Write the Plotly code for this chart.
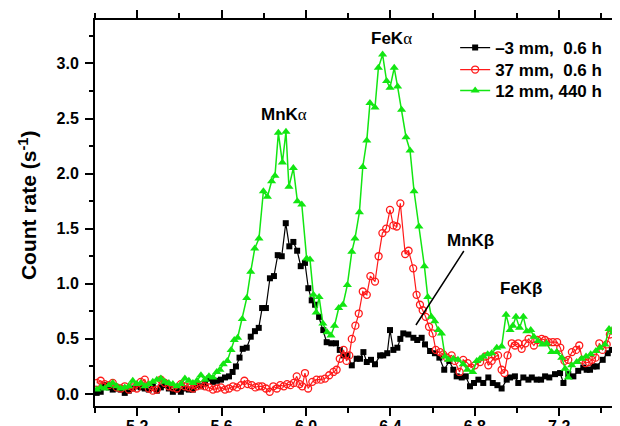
import plotly.graph_objects as go

# ---- data ----
black_x = [5.008, 5.027, 5.046, 5.065, 5.084, 5.103, 5.122, 5.141, 5.160, 5.179,
           5.198, 5.217, 5.236, 5.255, 5.274, 5.293, 5.312, 5.331, 5.350, 5.369,
           5.388, 5.407, 5.426, 5.445, 5.464, 5.483, 5.502, 5.521, 5.540, 5.559,
           5.578, 5.597, 5.616, 5.635, 5.652, 5.668, 5.685, 5.700, 5.719, 5.738,
           5.758, 5.776, 5.792, 5.810, 5.829, 5.848, 5.866, 5.885, 5.904, 5.921,
           5.940, 5.958, 5.975, 5.995, 6.011, 6.027, 6.043, 6.062, 6.082, 6.098,
           6.120, 6.142, 6.160, 6.177, 6.196, 6.217, 6.240, 6.256, 6.272, 6.288,
           6.308, 6.327, 6.351, 6.366, 6.385, 6.398, 6.414, 6.433, 6.447, 6.461,
           6.485, 6.509, 6.527, 6.548, 6.564, 6.588, 6.611, 6.632, 6.655, 6.679,
           6.698, 6.714, 6.738, 6.757, 6.777, 6.796, 6.817, 6.840, 6.864, 6.885,
           6.907, 6.927, 6.951, 6.967, 6.990, 7.006, 7.030, 7.054, 7.070, 7.093,
           7.114, 7.133, 7.153, 7.180, 7.204, 7.220, 7.243, 7.267, 7.290, 7.314,
           7.330, 7.346, 7.362, 7.378, 7.406, 7.430, 7.449, 7.469, 7.482]
black_y = [0.01, 0.02, 0.08, 0.06, 0.04, 0.05, 0.04, 0.01, 0.03, 0.05,
           0.07, 0.06, 0.05, 0.04, 0.07, 0.03, 0.06, 0.08, 0.05, 0.02,
           0.04, 0.02, 0.05, 0.04, 0.04, 0.08, 0.07, 0.10, 0.14, 0.11,
           0.12, 0.13, 0.15, 0.16, 0.20, 0.25, 0.33, 0.41, 0.42, 0.52,
           0.57, 0.60, 0.78, 0.78, 1.05, 1.07, 1.26, 1.25, 1.55, 1.34,
           1.38, 1.30, 1.16, 1.19, 0.96, 0.85, 0.81, 0.70, 0.58, 0.47,
           0.46, 0.46, 0.40, 0.35, 0.35, 0.26, 0.32, 0.32, 0.38, 0.29,
           0.31, 0.27, 0.35, 0.35, 0.37, 0.58, 0.40, 0.42, 0.50, 0.55,
           0.54, 0.51, 0.49, 0.51, 0.45, 0.39, 0.37, 0.33, 0.22, 0.30,
           0.22, 0.16, 0.15, 0.16, 0.07, 0.10, 0.13, 0.10, 0.15, 0.10,
           0.08, 0.05, 0.13, 0.15, 0.16, 0.10, 0.15, 0.13, 0.15, 0.13,
           0.13, 0.16, 0.15, 0.18, 0.19, 0.10, 0.18, 0.16, 0.21, 0.24,
           0.22, 0.22, 0.25, 0.25, 0.31, 0.37, 0.40, 0.45, 0.51]

red_x = [5.008, 5.027, 5.046, 5.065, 5.084, 5.103, 5.122, 5.141, 5.160, 5.179,
         5.198, 5.217, 5.236, 5.255, 5.274, 5.293, 5.312, 5.331, 5.350, 5.369,
         5.388, 5.407, 5.426, 5.445, 5.464, 5.483, 5.502, 5.521, 5.540, 5.559,
         5.578, 5.597, 5.616, 5.635, 5.654, 5.673, 5.692, 5.708, 5.724, 5.743,
         5.760, 5.776, 5.792, 5.810, 5.828, 5.845, 5.862, 5.878, 5.895, 5.910,
         5.926, 5.942, 5.956, 5.970, 5.982, 5.995, 6.010, 6.030, 6.050, 6.070,
         6.090, 6.110, 6.130, 6.145, 6.160, 6.178, 6.192, 6.205, 6.217, 6.234,
         6.250, 6.269, 6.288, 6.305, 6.327, 6.344, 6.362, 6.380, 6.398, 6.414,
         6.430, 6.447, 6.470, 6.486, 6.508, 6.524, 6.540, 6.553, 6.567, 6.583,
         6.600, 6.615, 6.635, 6.650, 6.668, 6.690, 6.705, 6.728, 6.745, 6.766,
         6.782, 6.800, 6.825, 6.850, 6.864, 6.880, 6.896, 6.910, 6.927, 6.940,
         6.955, 6.975, 6.990, 7.006, 7.022, 7.040, 7.055, 7.080, 7.096, 7.117,
         7.133, 7.150, 7.170, 7.190, 7.205, 7.225, 7.243, 7.260, 7.280, 7.295,
         7.310, 7.325, 7.340, 7.355, 7.372, 7.390, 7.405, 7.425, 7.440, 7.458,
         7.470, 7.482]
red_y = [0.10, 0.12, 0.09, 0.08, 0.10, 0.06, 0.05, 0.07, 0.04, 0.06,
         0.05, 0.11, 0.13, 0.05, 0.03, 0.04, 0.13, 0.10, 0.07, 0.06,
         0.05, 0.09, 0.07, 0.06, 0.05, 0.07, 0.08, 0.07, 0.06, 0.04,
         0.05, 0.06, 0.04, 0.05, 0.07, 0.06, 0.08, 0.12, 0.09, 0.08,
         0.06, 0.07, 0.07, 0.05, 0.02, 0.07, 0.05, 0.08, 0.07, 0.09,
         0.08, 0.10, 0.16, 0.09, 0.07, 0.19, 0.05, 0.11, 0.13, 0.13,
         0.14, 0.17, 0.20, 0.22, 0.32, 0.40, 0.30, 0.35, 0.50, 0.62,
         0.73, 0.93, 0.90, 1.07, 1.02, 1.25, 1.46, 1.50, 1.67, 1.53,
         1.52, 1.73, 1.27, 1.30, 1.14, 0.90, 0.81, 0.76, 0.70, 0.61,
         0.55, 0.40, 0.38, 0.36, 0.33, 0.35, 0.30, 0.20, 0.31, 0.28,
         0.24, 0.26, 0.29, 0.34, 0.26, 0.30, 0.34, 0.35, 0.22, 0.19,
         0.35, 0.46, 0.44, 0.46, 0.41, 0.46, 0.50, 0.44, 0.49, 0.50,
         0.49, 0.47, 0.47, 0.47, 0.42, 0.30, 0.31, 0.38, 0.40, 0.44,
         0.31, 0.28, 0.29, 0.31, 0.33, 0.46, 0.40, 0.45, 0.54, 0.57,
         0.52, 0.66]

green_x = [5.008, 5.027, 5.046, 5.065, 5.084, 5.103, 5.122, 5.141, 5.160, 5.179,
           5.198, 5.217, 5.236, 5.255, 5.274, 5.293, 5.312, 5.331, 5.350, 5.369,
           5.388, 5.407, 5.426, 5.445, 5.464, 5.483, 5.502, 5.521, 5.540, 5.559,
           5.577, 5.592, 5.608, 5.627, 5.645, 5.660, 5.676, 5.698, 5.719, 5.738,
           5.757, 5.777, 5.798, 5.817, 5.837, 5.853, 5.869, 5.888, 5.905, 5.919,
           5.940, 5.959, 5.980, 6.003, 6.019, 6.035, 6.048, 6.062, 6.080, 6.100,
           6.118, 6.135, 6.155, 6.175, 6.196, 6.217, 6.232, 6.253, 6.269, 6.288,
           6.303, 6.327, 6.343, 6.363, 6.382, 6.398, 6.418, 6.434, 6.453, 6.474,
           6.493, 6.512, 6.535, 6.561, 6.577, 6.594, 6.610, 6.627, 6.642, 6.659,
           6.675, 6.698, 6.720, 6.745, 6.765, 6.790, 6.809, 6.825, 6.840, 6.861,
           6.880, 6.904, 6.927, 6.948, 6.967, 6.980, 6.995, 7.012, 7.030, 7.046,
           7.065, 7.080, 7.100, 7.120, 7.140, 7.164, 7.188, 7.212, 7.228, 7.243,
           7.259, 7.283, 7.306, 7.327, 7.349, 7.374, 7.393, 7.417, 7.436, 7.455,
           7.466, 7.480]
green_y = [0.04, 0.06, 0.05, 0.08, 0.10, 0.07, 0.05, 0.06, 0.07, 0.12,
           0.09, 0.10, 0.07, 0.09, 0.11, 0.13, 0.14, 0.11, 0.10, 0.09,
           0.07, 0.09, 0.14, 0.12, 0.10, 0.12, 0.17, 0.13, 0.16, 0.15,
           0.20, 0.22, 0.27, 0.30, 0.40, 0.49, 0.51, 0.68, 0.87, 1.11,
           1.32, 1.41, 1.84, 1.79, 1.93, 1.98, 2.37, 2.10, 2.38, 1.88,
           2.05, 1.75, 1.72, 1.23, 1.22, 0.90, 0.74, 0.88, 0.64, 0.56,
           0.53, 0.62, 0.78, 0.81, 0.99, 1.29, 1.41, 1.65, 2.06, 2.30,
           2.64, 2.60, 2.96, 3.08, 2.84, 2.78, 2.96, 2.79, 2.58, 2.33,
           2.21, 1.84, 1.52, 1.16, 0.88, 0.70, 0.66, 0.58, 0.55, 0.34,
           0.31, 0.32, 0.31, 0.27, 0.22, 0.20, 0.30, 0.32, 0.34, 0.36,
           0.37, 0.42, 0.43, 0.72, 0.58, 0.62, 0.70, 0.60, 0.70, 0.57,
           0.58, 0.52, 0.48, 0.45, 0.46, 0.38, 0.38, 0.33, 0.23, 0.15,
           0.26, 0.29, 0.32, 0.34, 0.36, 0.39, 0.42, 0.45, 0.59, 0.56,
           0.62, 0.78]

series_names = ["\u20133 mm,\u00a0 0.6 h", "37 mm,\u00a0 0.6 h", "12 mm, 440 h"]
x_ticks = [5.2, 5.6, 6.0, 6.4, 6.8, 7.2]
y_ticks = [0.0, 0.5, 1.0, 1.5, 2.0, 2.5, 3.0]

FONT = "Liberation Sans, Arial, sans-serif"
ALPHA = "<span style='font-family:Liberation Serif;font-weight:normal'>\u03b1</span>"

fig = go.Figure()
fig.add_trace(go.Scatter(
    x=black_x, y=black_y, name=series_names[0], mode="lines+markers", legend="legend",
    line=dict(color="black", width=1.2),
    marker=dict(symbol="square", size=6, color="black", line=dict(width=0))))
fig.add_trace(go.Scatter(
    x=red_x, y=red_y, name=series_names[1], mode="lines+markers", legend="legend2",
    line=dict(color="#ff1a1a", width=1.2),
    marker=dict(symbol="circle-open", size=7, color="#ff1a1a", line=dict(width=1.3))))
fig.add_trace(go.Scatter(
    x=green_x, y=green_y, name=series_names[2], mode="lines+markers", legend="legend3",
    line=dict(color="#12e612", width=1.5),
    marker=dict(symbol="triangle-up", size=8, color="#12e612", line=dict(width=0))))

tickfont = dict(family=FONT, size=16, color="black", weight="bold")
legfont = dict(family=FONT, size=17, color="black", weight="bold")


def leg(y):
    return dict(x=0.686, y=y, xanchor="left", yanchor="middle",
                bgcolor="rgba(0,0,0,0)", borderwidth=0, font=legfont)


# the page body adds an 8 px offset, so the figure is 8 px smaller with margins reduced
fig.update_layout(
    width=612, height=418,
    margin=dict(l=87, r=0, t=12, b=20),
    paper_bgcolor="white", plot_bgcolor="white",
    showlegend=True,
    legend=leg(0.9275), legend2=leg(0.8705), legend3=leg(0.816),
    xaxis=dict(range=[5.0, 7.488], tickvals=x_ticks, tickformat=".1f",
               ticks="outside", ticklen=8, tickwidth=1.5, tickcolor="black",
               showline=True, linecolor="black", linewidth=2, mirror="ticks",
               showgrid=False, zeroline=False, automargin=False,
               tickfont=tickfont, ticklabelstandoff=-3,
               minor=dict(ticks="outside", ticklen=5, tickwidth=1.5, tickcolor="black",
                          dtick=0.2, tick0=5.0, showgrid=False)),
    yaxis=dict(range=[-0.109, 3.394], tickvals=y_ticks, tickformat=".1f",
               ticks="outside", ticklen=8, tickwidth=1.5, tickcolor="black",
               showline=True, linecolor="black", linewidth=2, mirror=False,
               showgrid=False, zeroline=False, automargin=False,
               tickfont=tickfont, ticklabelstandoff=3,
               minor=dict(ticks="outside", ticklen=4, tickwidth=1.5, tickcolor="black",
                          dtick=0.25, tick0=0.0, showgrid=False)),
)

labfont = dict(family=FONT, size=17, color="black", weight="bold")
fig.add_annotation(x=5.896, y=2.532, text="MnK" + ALPHA, showarrow=False, font=labfont)
fig.add_annotation(x=6.403, y=3.23, text="FeK" + ALPHA, showarrow=False, font=labfont)
fig.add_annotation(x=7.019, y=0.953, text="FeK\u03b2", showarrow=False, font=labfont)
fig.add_annotation(x=6.521, y=0.626, text="MnK\u03b2", showarrow=True,
                   ax=55, ay=-85, arrowhead=0, arrowwidth=1.5, arrowcolor="black",
                   font=labfont)
fig.add_annotation(xref="paper", yref="paper", x=-0.128, y=0.52,
                   xanchor="center", yanchor="middle",
                   text="Count rate (s<sup>-1</sup>)", textangle=-90, showarrow=False,
                   font=dict(family=FONT, size=21, color="black", weight="bold"))

fig.write_html("out.html")
